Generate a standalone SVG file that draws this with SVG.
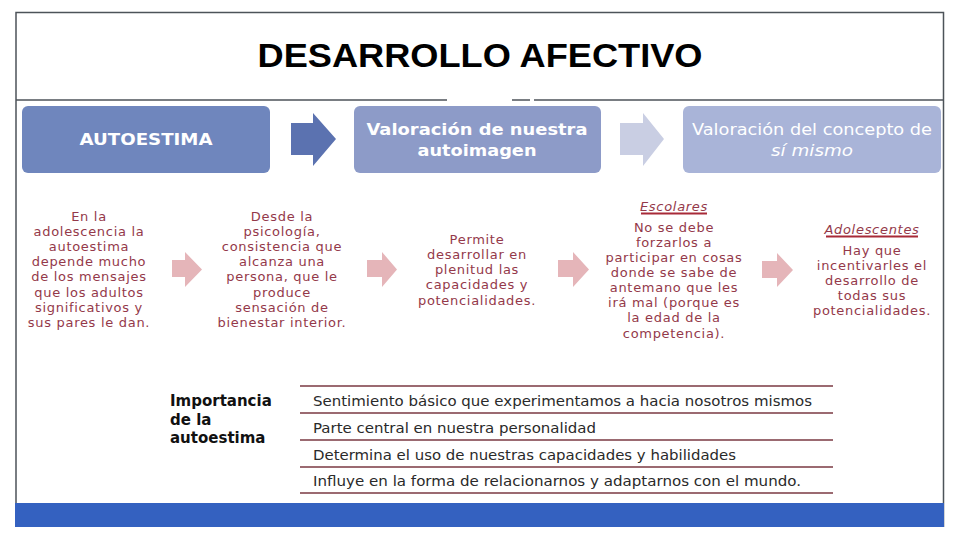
<svg xmlns="http://www.w3.org/2000/svg" width="960" height="540" viewBox="0 0 960 540">
<defs>
<style>
.frame{fill:none;stroke:#4d5359;stroke-width:1.5}
.title{font-family:"Liberation Sans",Arial,sans-serif;font-weight:bold;font-size:34px;fill:#000}
.bt{font-family:"DejaVu Sans",Verdana,sans-serif;font-size:16px;fill:#fff;text-anchor:middle}
.rt{font-family:"DejaVu Sans",Verdana,sans-serif;font-size:13px;letter-spacing:0.7px;fill:#94394a;text-anchor:middle}
.imp{font-family:"DejaVu Sans",Verdana,sans-serif;font-size:15px;font-weight:bold;fill:#111}
.row{font-family:"DejaVu Sans",Tahoma,sans-serif;font-size:13.5px;fill:#2a2a2a}
.rl{stroke:#7a3842;stroke-width:1.3}
.pk{fill:#e5b5b9}
.ul{stroke:#a82a38;stroke-width:2}
</style>
</defs>
<rect x="0" y="0" width="960" height="540" fill="#fff"/>
<g id="frame">
<path class="frame" d="M16,527 V12.5 H943.5 V527"/>
<path class="frame" d="M16,100 H447 M512,100 H530 M534,100 H943"/>
<rect x="15" y="503" width="929" height="24" fill="#3461c0"/>
</g>
<text class="title" x="480" y="67" text-anchor="middle" textLength="445" lengthAdjust="spacingAndGlyphs">DESARROLLO AFECTIVO</text>
<g id="connectors">
<path d="M291,123 H313 V113 L336,139 L313,166 V155 H291 Z" fill="#5b72b0"/>
<path d="M620,123 H643 V113 L664,139 L643,166 V155 H620 Z" fill="#c9cee3"/>
<path class="pk" d="M172,260 H185 V252 L202,269.5 L185,287 V277 H172 Z"/>
<path class="pk" d="M367,260 H382 V252 L397,269.5 L382,287 V277 H367 Z"/>
<path class="pk" d="M558,260 H573 V252 L589,269.5 L573,287 V277 H558 Z"/>
<path class="pk" d="M762,261 H777 V253 L793,270 L777,287 V278 H762 Z"/>
</g>
<g id="autoestima">
<rect x="22" y="106" width="248" height="67" rx="6" fill="#6f86bd"/>
<text class="bt" x="146" y="145" font-weight="bold" textLength="133" lengthAdjust="spacingAndGlyphs">AUTOESTIMA</text>
</g>
<g id="autoimagen">
<rect x="354" y="106" width="247" height="67" rx="6" fill="#8d9bc8"/>
<text class="bt" x="477" y="135" font-weight="bold" font-size="16.5" textLength="221" lengthAdjust="spacingAndGlyphs">Valoración de nuestra</text>
<text class="bt" x="477" y="156" font-weight="bold" font-size="16.5" textLength="119" lengthAdjust="spacingAndGlyphs">autoimagen</text>
</g>
<g id="concepto">
<rect x="683" y="106" width="258" height="67" rx="6" fill="#a9b4d8"/>
<text class="bt" x="812" y="135" textLength="240" lengthAdjust="spacingAndGlyphs">Valoración del concepto de</text>
<text class="bt" x="812" y="156" font-style="italic" textLength="82" lengthAdjust="spacingAndGlyphs">sí mismo</text>
</g>
<g id="col1">
<text class="rt" x="89" y="221">En la</text>
<text class="rt" x="89" y="236">adolescencia la</text>
<text class="rt" x="89" y="251">autoestima</text>
<text class="rt" x="89" y="266">depende mucho</text>
<text class="rt" x="89" y="281">de los mensajes</text>
<text class="rt" x="89" y="297">que los adultos</text>
<text class="rt" x="89" y="312">significativos y</text>
<text class="rt" x="89" y="327">sus pares le dan.</text>
</g>
<g id="col2">
<text class="rt" x="282" y="221">Desde la</text>
<text class="rt" x="282" y="236">psicología,</text>
<text class="rt" x="282" y="251">consistencia que</text>
<text class="rt" x="282" y="266">alcanza una</text>
<text class="rt" x="282" y="281">persona, que le</text>
<text class="rt" x="282" y="297">produce</text>
<text class="rt" x="282" y="312">sensación de</text>
<text class="rt" x="282" y="327">bienestar interior.</text>
</g>
<g id="col3">
<text class="rt" x="477" y="244">Permite</text>
<text class="rt" x="477" y="259">desarrollar en</text>
<text class="rt" x="477" y="274">plenitud las</text>
<text class="rt" x="477" y="289">capacidades y</text>
<text class="rt" x="477" y="305">potencialidades.</text>
</g>
<g id="col4">
<text class="rt" x="674" y="211" font-style="italic">Escolares</text>
<line class="ul" x1="641" y1="213.5" x2="707" y2="213.5"/>
<text class="rt" x="674" y="232">No se debe</text>
<text class="rt" x="674" y="247">forzarlos a</text>
<text class="rt" x="674" y="262">participar en cosas</text>
<text class="rt" x="674" y="277">donde se sabe de</text>
<text class="rt" x="674" y="292">antemano que les</text>
<text class="rt" x="674" y="307">irá mal (porque es</text>
<text class="rt" x="674" y="322">la edad de la</text>
<text class="rt" x="674" y="338">competencia).</text>
</g>
<g id="col5">
<text class="rt" x="872" y="234" font-style="italic">Adolescentes</text>
<line class="ul" x1="826" y1="236.5" x2="918" y2="236.5"/>
<text class="rt" x="872" y="255">Hay que</text>
<text class="rt" x="872" y="270">incentivarles el</text>
<text class="rt" x="872" y="285">desarrollo de</text>
<text class="rt" x="872" y="300">todas sus</text>
<text class="rt" x="872" y="315">potencialidades.</text>
</g>
<g id="importancia">
<text class="imp" x="170" y="406">Importancia</text>
<text class="imp" x="170" y="425">de la</text>
<text class="imp" x="170" y="443">autoestima</text>
</g>
<g id="rows">
<line class="rl" x1="300" y1="386" x2="833" y2="386"/>
<line class="rl" x1="300" y1="413" x2="833" y2="413"/>
<line class="rl" x1="300" y1="440" x2="833" y2="440"/>
<line class="rl" x1="300" y1="467" x2="833" y2="467"/>
<line class="rl" x1="300" y1="493" x2="833" y2="493"/>
<text class="row" x="313" y="406" textLength="499" lengthAdjust="spacingAndGlyphs">Sentimiento básico que experimentamos a hacia nosotros mismos</text>
<text class="row" x="313" y="433" textLength="283" lengthAdjust="spacingAndGlyphs">Parte central en nuestra personalidad</text>
<text class="row" x="313" y="460" textLength="423" lengthAdjust="spacingAndGlyphs">Determina el uso de nuestras capacidades y habilidades</text>
<text class="row" x="313" y="486" textLength="488" lengthAdjust="spacingAndGlyphs">Influye en la forma de relacionarnos y adaptarnos con el mundo.</text>
</g>
</svg>
